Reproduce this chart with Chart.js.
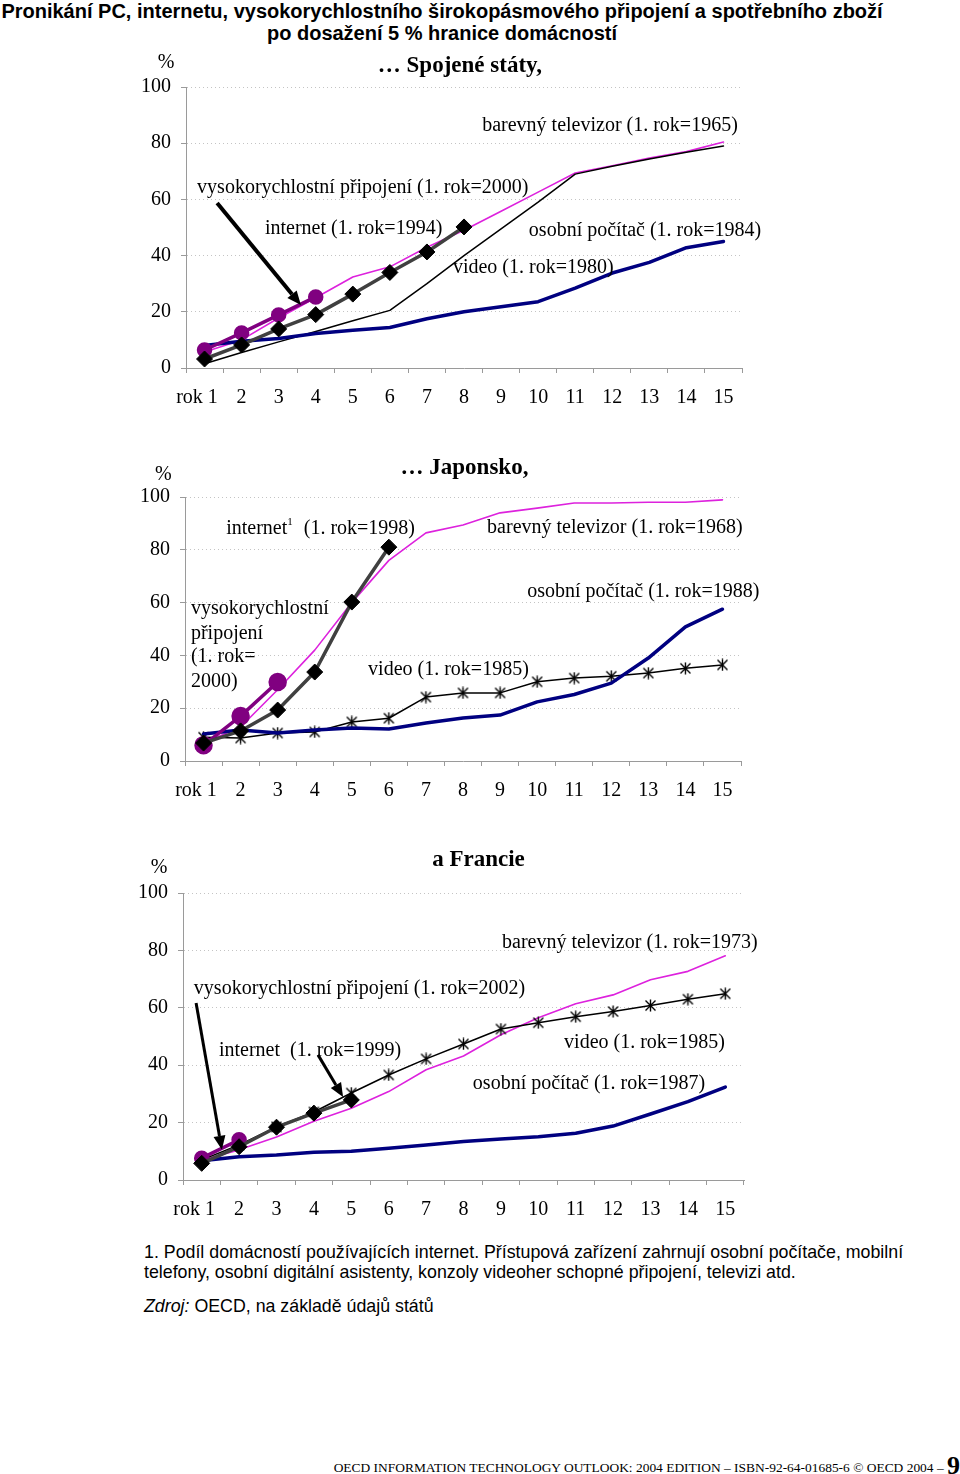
<!DOCTYPE html>
<html><head><meta charset="utf-8">
<script src="https://cdn.jsdelivr.net/npm/chart.js@4.4.1/dist/chart.umd.min.js"></script>
<style>
html,body{margin:0;padding:0;background:#fff;}
body{width:960px;height:1474px;position:relative;overflow:hidden;}
.abs{position:absolute;}
#title{left:0;top:0;width:884px;text-align:center;font:bold 20px "Liberation Sans",Arial,sans-serif;line-height:22px;color:#000;white-space:nowrap;}
.cw{position:absolute;left:100px;width:700px;}
.cw canvas{display:block;}
#note{left:144px;top:1242px;width:820px;font:17.8px "Liberation Sans",Arial,sans-serif;line-height:20px;color:#000;white-space:nowrap;}
#src{left:144px;top:1296px;font:17.8px "Liberation Sans",Arial,sans-serif;line-height:20px;color:#000;}
#footer{right:0;top:1451px;white-space:nowrap;font:13.45px "Liberation Serif","Times New Roman",serif;color:#000;}
#footer b{font-size:26px;vertical-align:-2px;}
</style></head>
<body>
<div id="title" class="abs">Pronikání PC, internetu, vysokorychlostního širokopásmového připojení a spotřebního zboží<br>po dosažení 5 % hranice domácností</div>

<div class="cw" style="top:40px;height:390px;"><canvas id="cUS" width="700" height="390"></canvas></div>
<div class="cw" style="top:445px;height:370px;"><canvas id="cJP" width="700" height="370"></canvas></div>
<div class="cw" style="top:835px;height:395px;"><canvas id="cFR" width="700" height="395"></canvas></div>

<div id="note" class="abs">1. Podíl domácností používajících internet. Přístupová zařízení zahrnují osobní počítače, mobilní<br>telefony, osobní digitální asistenty, konzoly videoher schopné připojení, televizi atd.</div>
<div id="src" class="abs"><i>Zdroj:</i> OECD, na základě údajů států</div>
<div id="footer" class="abs">OECD INFORMATION TECHNOLOGY OUTLOOK: 2004 EDITION – ISBN-92-64-01685-6 © OECD 2004 – <b>9</b></div>

<script>
// ---------- data ----------
const yearLabels = ['rok 1','2','3','4','5','6','7','8','9','10','11','12','13','14','15'];
const yTickValues = [0,20,40,60,80,100];

// Spojené státy
const usTV        = [5.7,10,17.8,25,32.4,36,43,49,55.8,62.6,69.4,72,74.7,77,80.4];
const usVideo     = [1.5,5.5,9.3,13,16.8,20.5,30,40,49.5,59,69,71.8,74.4,76.8,79];
const usPC        = [8,9.5,10.5,12.3,13.4,14.4,17.5,20,21.8,23.6,28.4,33.8,37.6,42.8,45];
const usInternet  = [3.2,8.2,13.9,19,26.3,34,41.3,50.2];
const usBroadband = [6.4,12.5,18.9,25.3];

// Japonsko
const jpTV        = [6.8,12.9,27,42,60,76,86.4,89.4,94,95.8,97.7,97.7,98,98,98.9];
const jpVideo     = [9,8.7,10.6,11,14.8,16.2,24.2,25.8,25.8,30,31.4,32.1,33.3,35.1,36.4];
const jpPC        = [10.2,11.7,10.6,11.7,12.5,12.1,14.4,16.3,17.4,22.4,25.2,29.5,39,50.8,57.5];
const jpInternet  = [6.8,11.4,19.3,33.7,60.2,81];
const jpBroadband = [6,17,29.9];

// Francie
const frTV        = [7,10.5,15,20.5,25,30.8,38.4,43.2,50.6,56.5,61.4,64.5,69.8,72.7,78.1];
const frVideo     = [7,12.2,18.5,23.7,30.3,36.6,42.2,47.4,52.6,54.8,56.9,58.7,60.8,63,64.9];
const frPC        = [6.7,8.1,8.7,9.7,10,11.1,12.2,13.4,14.3,15.1,16.3,18.8,23,27.3,32.4];
const frInternet  = [5.8,11.6,18.4,23.3,27.9];
const frBroadband = [7.6,14];

// ---------- styles ----------
const SERIF = '"Liberation Serif","Times New Roman",serif';
const C_TV = '#dd22dd', C_PC = '#000080', C_BB = '#800080', C_NET = '#404040';

function asteriskImg(){
  const s = 13, c = document.createElement('canvas');
  c.width = s; c.height = s;
  const g = c.getContext('2d');
  g.strokeStyle = '#000'; g.lineWidth = 1.4;
  g.beginPath();
  g.moveTo(s/2, 0.5); g.lineTo(s/2, s-0.5);
  g.moveTo(1.5, 1.5); g.lineTo(s-1.5, s-1.5);
  g.moveTo(s-1.5, 1.5); g.lineTo(1.5, s-1.5);
  g.stroke();
  return c;
}
const AST = asteriskImg();

function ds(data, kind){
  const base = {data, fill:false, tension:0, spanGaps:false};
  switch(kind){
    case 'tv': return {...base, borderColor:C_TV, borderWidth:1.6, pointRadius:0, order:5};
    case 'video': return {...base, borderColor:'#000', borderWidth:1.5, pointRadius:0, order:4};
    case 'videoStar': return {...base, borderColor:'#000', borderWidth:1.5, pointStyle:AST, pointRadius:6, order:4};
    case 'pc': return {...base, borderColor:C_PC, borderWidth:3.5, pointRadius:0, order:3};
    case 'net': return {...base, borderColor:C_NET, borderWidth:3.5, pointStyle:'rectRot', pointRadius:8, pointBackgroundColor:'#000', pointBorderColor:'#000', pointBorderWidth:1, order:1};
    case 'bb': return {...base, borderColor:C_BB, borderWidth:3.5, pointStyle:'circle', pointRadius:6, pointBackgroundColor:C_BB, pointBorderColor:C_BB, order:2};
  }
}

let pluginCount = 0;
function notesPlugin(items){
  return {
    id: 'notes' + (pluginCount++),
    afterDatasetsDraw(chart){
      const {ctx} = chart, xs = chart.scales.x, ys = chart.scales.y;
      ctx.save();
      ctx.fillStyle = '#000'; ctx.strokeStyle = '#000';
      for (const it of items){
        if (it.arrow){
          const x1 = xs.getPixelForValue(it.arrow[0]), y1 = ys.getPixelForValue(it.arrow[1]);
          const x2 = xs.getPixelForValue(it.arrow[2]), y2 = ys.getPixelForValue(it.arrow[3]);
          const a = Math.atan2(y2-y1, x2-x1), hl = 14, hw = 6;
          const bx = x2 - hl*Math.cos(a), by = y2 - hl*Math.sin(a);
          ctx.lineWidth = it.w || 3.5;
          ctx.beginPath(); ctx.moveTo(x1,y1); ctx.lineTo(bx,by); ctx.stroke();
          ctx.beginPath();
          ctx.moveTo(x2,y2);
          ctx.lineTo(bx + hw*Math.sin(a), by - hw*Math.cos(a));
          ctx.lineTo(bx - hw*Math.sin(a), by + hw*Math.cos(a));
          ctx.closePath(); ctx.fill();
          continue;
        }
        const px = xs.getPixelForValue(it.x), py = ys.getPixelForValue(it.y);
        ctx.textBaseline = 'middle';
        const font = it.font || F20;
        if (it.parts){
          let cx = px;
          ctx.textAlign = 'left';
          for (const p of it.parts){
            ctx.font = p.sup ? ('11px ' + SERIF) : font;
            ctx.fillText(p.t, cx, p.sup ? py - 7 : py);
            cx += ctx.measureText(p.t).width + (p.sup ? 1 : 0);
          }
        } else {
          ctx.font = font;
          ctx.textAlign = it.align || 'left';
          ctx.fillText(it.t, px, py);
        }
      }
      ctx.restore();
    }
  };
}

const F20 = '20px ' + SERIF, SUB = 'bold 23px ' + SERIF;

function build(id, cfg){
  const tickFont = {family: SERIF, size: 20};
  return new Chart(document.getElementById(id), {
    type: 'line',
    data: {labels: yearLabels, datasets: cfg.datasets},
    options: {
      responsive: false, animation: false, devicePixelRatio: 1,
      events: [],
      layout: {padding: {top: cfg.padTop, right: cfg.padRight, left: 0, bottom: 0}},
      plugins: {legend: {display: false}, tooltip: {enabled: false}, title: {display: false}},
      elements: {line: {borderJoinStyle: 'round', borderCapStyle: 'round'}},
      scales: {
        x: {
          offset: true,
          grid: {offset: true, drawOnChartArea: false, drawTicks: true, tickLength: 5, tickColor: '#9a9a9a', tickBorderDash: []},
          border: {color: '#9a9a9a', width: 1},
          ticks: {font: tickFont, color: '#000', padding: cfg.xPad, maxRotation: 0, autoSkip: false,
                  callback(v, i){ const l = this.getLabelForValue(v); return i === 0 ? l + '\u00a0\u00a0\u00a0' : l; }},
          afterFit(s){ s.height = cfg.xHeight; }
        },
        y: {
          min: 0, max: 100,
          afterBuildTicks(s){ s.ticks = yTickValues.map(v => ({value: v})); },
          grid: {color: '#c4c4c4', lineWidth: 1, tickLength: 5, tickColor: '#9a9a9a', tickBorderDash: []},
          border: {color: '#9a9a9a', width: 1, dash: [1, 3]},
          ticks: {font: tickFont, color: '#000', padding: 10},
          afterFit(s){ s.width = cfg.yWidth; }
        }
      }
    },
    plugins: [notesPlugin(cfg.items)]
  });
}

build('cUS', {
  yWidth: 86, padTop: 47, padRight: 58, xHeight: 62, xPad: 13,
  datasets: [ds(usInternet,'net'), ds(usBroadband,'bb'), ds(usPC,'pc'), ds(usVideo,'video'), ds(usTV,'tv')],
  items: [
    {t:'%', x:-1.26, y:108.5},
    {t:'… Spojené státy,', x:6.89, y:107.5, align:'center', font:SUB},
    {t:'barevný televizor (1. rok=1965)', x:7.49, y:86.1},
    {t:'vysokorychlostní připojení (1. rok=2000)', x:-0.2, y:64.1},
    {t:'internet (1. rok=1994)', x:1.63, y:49.5},
    {t:'osobní počítač (1. rok=1984)', x:8.75, y:48.8},
    {t:'video (1. rok=1980)', x:6.7, y:35.6},
    {arrow:[0.34, 58.7, 2.6, 22.4], w:4}
  ]
});

build('cJP', {
  yWidth: 85, padTop: 52, padRight: 59, xHeight: 54, xPad: 13,
  datasets: [ds(jpInternet,'net'), {...ds(jpBroadband,'bb'), pointRadius:7.5}, ds(jpPC,'pc'), ds(jpVideo,'videoStar'), ds(jpTV,'tv')],
  items: [
    {t:'%', x:-1.31, y:108.3},
    {t:'… Japonsko,', x:7.04, y:111, align:'center', font:SUB},
    {parts:[{t:'internet'},{t:'1', sup:true},{t:'  (1. rok=1998)'}], x:0.61, y:87.9},
    {t:'barevný televizor (1. rok=1968)', x:7.65, y:88.3},
    {t:'osobní počítač (1. rok=1988)', x:8.73, y:64.0},
    {t:'vysokorychlostní', x:-0.34, y:57.6},
    {t:'připojení', x:-0.34, y:48.1},
    {t:'(1. rok=', x:-0.34, y:39.4},
    {t:'2000)', x:-0.34, y:29.9},
    {t:'video (1. rok=1985)', x:4.44, y:34.5}
  ]
});

build('cFR', {
  yWidth: 83, padTop: 58, padRight: 56, xHeight: 50, xPad: 13,
  datasets: [ds(frInternet,'net'), ds(frBroadband,'bb'), ds(frPC,'pc'), ds(frVideo,'videoStar'), ds(frTV,'tv')],
  items: [
    {t:'%', x:-1.36, y:108.8},
    {t:'a Francie', x:7.4, y:111.6, align:'center', font:SUB},
    {t:'barevný televizor (1. rok=1973)', x:8.03, y:82.7},
    {t:'vysokorychlostní připojení (1. rok=2002)', x:-0.21, y:66.6},
    {t:'internet  (1. rok=1999)', x:0.46, y:45.0},
    {t:'video (1. rok=1985)', x:9.69, y:47.8},
    {t:'osobní počítač (1. rok=1987)', x:7.25, y:33.5},
    {arrow:[-0.15, 61.7, 0.54, 10.5], w:3},
    {arrow:[3.11, 43.6, 3.78, 28.9], w:3}
  ]
});
</script>
</body></html>
